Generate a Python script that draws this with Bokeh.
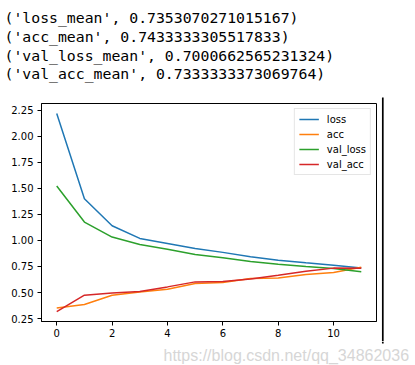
from bokeh.plotting import figure
from bokeh.models import FixedTicker, PrintfTickFormatter, Legend, LegendItem, Range1d
from bokeh.layouts import column, row
from bokeh.core.properties import value
from bokeh.embed import file_html
from bokeh.resources import INLINE

epochs = list(range(12))
loss = [2.218, 1.40, 1.14, 1.019, 0.971, 0.923, 0.885, 0.843, 0.81, 0.785, 0.762, 0.735]
acc = [0.352, 0.385, 0.474, 0.505, 0.532, 0.586, 0.596, 0.635, 0.64, 0.673, 0.692, 0.743]
val_loss = [1.522, 1.176, 1.032, 0.961, 0.916, 0.865, 0.833, 0.798, 0.772, 0.75, 0.731, 0.700]
val_acc = [0.317, 0.474, 0.496, 0.51, 0.554, 0.602, 0.605, 0.63, 0.666, 0.705, 0.734, 0.733]

series_names = ["loss", "acc", "val_loss", "val_acc"]
series_colors = ["#1f77b4", "#ff7f0e", "#2ca02c", "#d62728"]

header_lines = [
    "('loss_mean', 0.7353070271015167)",
    "('acc_mean', 0.7433333305517833)",
    "('val_loss_mean', 0.7000662565231324)",
    "('val_acc_mean', 0.7333333373069764)",
]
watermark = "https://blog.csdn.net/qq_34862036"

x_ticks = [0, 2, 4, 6, 8, 10]
y_ticks = [0.25, 0.5, 0.75, 1.0, 1.25, 1.5, 1.75, 2.0, 2.25]

TOTAL_W = 415
HEAD_H = 95
MID_H = 246
FOOT_H = 24
MAIN_W = 379
SEP_X = 382.3


def pixel_fig(w, h):
    f = figure(width=w, height=h, output_backend="svg", toolbar_location=None,
               x_range=Range1d(0, w), y_range=Range1d(h, 0),
               x_axis_type=None, y_axis_type=None, min_border=0)
    f.outline_line_color = None
    f.grid.visible = False
    f.background_fill_color = "white"
    f.border_fill_color = "white"
    return f


# ---- header text ----
head = pixel_fig(TOTAL_W, HEAD_H)
n = len(header_lines)
head.text(x=[4.0] * n, y=[16.7 + 18.9 * i for i in range(n)], text=header_lines,
          text_font=value("DejaVu Sans Mono"), text_font_size=value("14.8px"),
          text_color="black", text_baseline="alphabetic", text_align="left")

# ---- main chart ----
p = figure(frame_width=335, frame_height=218, output_backend="svg", toolbar_location=None,
           min_border_left=41, min_border_right=MAIN_W - 41 - 335,
           min_border_top=8, min_border_bottom=MID_H - 8 - 218,
           x_range=Range1d(-0.55, 11.55), y_range=Range1d(0.222, 2.313))
p.background_fill_color = "white"
p.border_fill_color = "white"
p.outline_line_color = "black"
p.outline_line_width = 1
p.grid.visible = False

for ax in (p.xaxis[0], p.yaxis[0]):
    ax.axis_line_color = "black"
    ax.major_tick_line_color = "black"
    ax.major_tick_out = 4
    ax.major_tick_in = 0
    ax.minor_tick_line_color = None
    ax.major_label_text_color = "black"
    ax.major_label_text_font = "DejaVu Sans"
    ax.major_label_text_font_size = "10px"
p.xaxis[0].major_label_standoff = 3
p.yaxis[0].major_label_standoff = 4

p.xaxis[0].ticker = FixedTicker(ticks=x_ticks)
p.yaxis[0].ticker = FixedTicker(ticks=y_ticks)
p.yaxis[0].formatter = PrintfTickFormatter(format="%.2f")

data = [loss, acc, val_loss, val_acc]
items = []
for name, col, vals in zip(series_names, series_colors, data):
    r = p.line(epochs, vals, line_color=col, line_width=1.5)
    items.append(LegendItem(label=name, renderers=[r]))

legend = Legend(items=items, location="top_right", margin=5, padding=4, spacing=3,
                label_height=12, glyph_height=12, glyph_width=20, label_standoff=8,
                label_text_font="DejaVu Sans", label_text_font_size="10px",
                label_text_color="black",
                border_line_color="#cccccc", border_line_width=1,
                background_fill_color="white", background_fill_alpha=0.8)
p.add_layout(legend, "center")

# ---- thin strip on the right with the vertical separator ----
strip = pixel_fig(TOTAL_W - MAIN_W, MID_H)
strip.segment(x0=[SEP_X - MAIN_W], y0=[97 - HEAD_H], x1=[SEP_X - MAIN_W], y1=[MID_H],
              line_color="black", line_width=1.7)

# ---- footer with watermark ----
foot = pixel_fig(TOTAL_W, FOOT_H)
foot.segment(x0=[SEP_X], y0=[0], x1=[SEP_X], y1=[343 - HEAD_H - MID_H],
             line_color="black", line_width=1.7)
foot.text(x=[163], y=[355 - HEAD_H - MID_H], text=[watermark], text_font=value("Liberation Sans"),
          text_font_size=value("16px"), text_color="#d6d6d6", text_baseline="alphabetic",
          text_align="left")

layout = column(head, row(p, column(strip)), foot)
open("out.html", "w").write(file_html(layout, INLINE))
